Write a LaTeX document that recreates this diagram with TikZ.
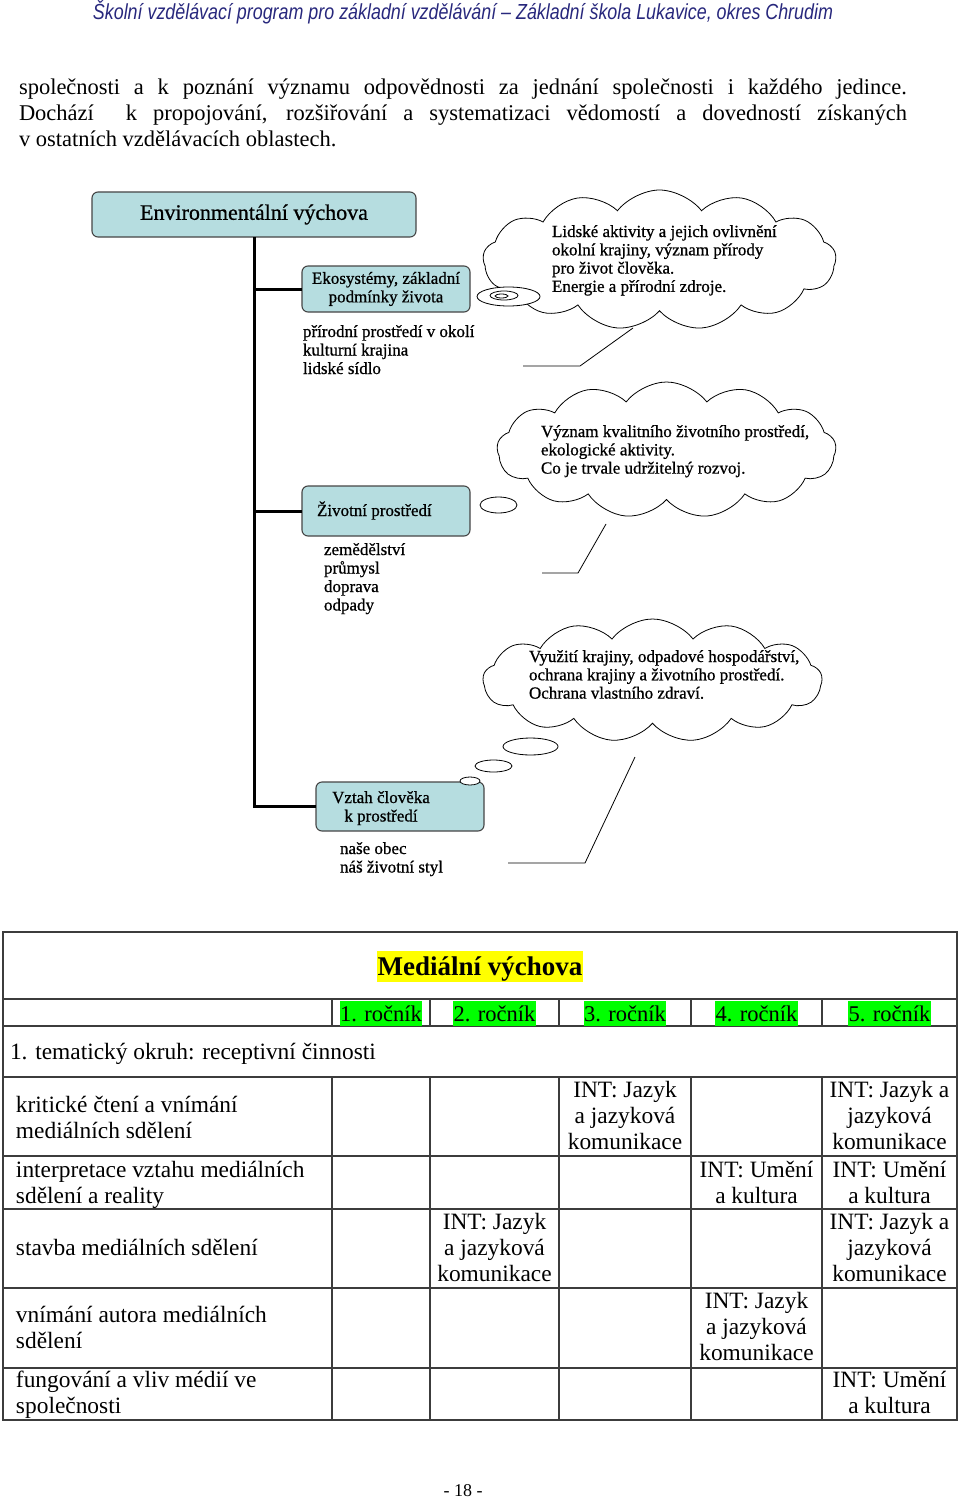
\documentclass[tikz,border=0pt]{standalone}
\usepackage{fontspec}
\setmainfont{Liberation Serif}
\newfontfamily\headfont[FakeStretch=0.82]{Liberation Sans}
\newfontfamily\dfont[FakeBold=0.7]{Liberation Serif}
\usetikzlibrary{shapes.geometric,shapes.symbols}
\definecolor{navy}{RGB}{40,40,125}
\definecolor{boxfill}{RGB}{182,221,224}
\definecolor{boxline}{RGB}{70,70,70}
\definecolor{hlgreen}{RGB}{0,255,0}
\definecolor{hlyellow}{RGB}{255,255,0}
\definecolor{gridline}{RGB}{60,60,60}
\newcommand\mlines[2]{\begin{tabular}[t]{@{}#1@{}}#2\end{tabular}}
\tikzset{
  every node/.style={inner sep=0pt, outer sep=0pt},
  body/.style={font=\fontsize{22.5}{26}\selectfont},
  ebox/.style={draw=boxline, fill=boxfill, rounded corners=6pt, line width=1.1pt},
  trunk/.style={line width=3pt},
  dtext/.style={font=\dfont\fontsize{17}{18.5}\selectfont},
  ctext/.style={font=\dfont\fontsize{17}{18.3}\selectfont},
  thought/.style={cloud, draw, line width=0.8pt, cloud puffs=13, cloud puff arc=105, cloud ignores aspect},
  bubble/.style={ellipse, draw, line width=0.8pt, fill=white},
  callout/.style={line width=0.8pt},
  grid/.style={draw=gridline, line width=1.3pt},
  ttext/.style={font=\fontsize{23.4}{26}\selectfont},
  hlg/.style={fill=hlgreen, text height=20pt, text depth=5pt, inner xsep=0.5pt, font=\fontsize{22.5}{26}\selectfont}
}
\begin{document}
\begin{tikzpicture}[x=1pt,y=-1pt]
\useasboundingbox (0,0) rectangle (960,1498);
\fill[white] (0,0) rectangle (960,1498);

% header
\node[anchor=base, text=navy, font=\headfont\itshape\fontsize{20}{24}\selectfont] (hdr) at (463,20)
  {\resizebox{740pt}{!}{Školní vzdělávací program pro základní vzdělávání – Základní škola Lukavice, okres Chrudim}};

% paragraph
\node[body, anchor=base west] (para) at (19,95) {\parbox[t]{888pt}{\fontsize{22.5}{26}\selectfont
společnosti a k~poznání významu odpovědnosti za jednání společnosti i každého jedince.\linebreak
Dochází\ \ k~propojování, rozšiřování a systematizaci vědomostí a dovedností získaných\linebreak
v~ostatních vzdělávacích oblastech.}};

% ---------- diagram ----------
\node[ebox, minimum width=324pt, minimum height=45pt, font=\dfont\fontsize{22}{24}\selectfont] (env) at (254,214.5) {Environmentální výchova};

\node[ebox, minimum width=168pt, minimum height=46pt, dtext, align=center] (eko) at (386,289) {Ekosystémy, základní\\podmínky života};
\node[dtext, anchor=base west] (ekol) at (303,337) {\mlines{l}{přírodní prostředí v~okolí\\kulturní krajina\\lidské sídlo}};

\node[ebox, minimum width=168pt, minimum height=50pt] (ziv) at (386,511) {};
\node[dtext, anchor=base west] (zivt) at (317,516) {Životní prostředí};
\node[dtext, anchor=base west] (zivl) at (324,555) {\mlines{l}{zemědělství\\průmysl\\doprava\\odpady}};

\node[ebox, minimum width=168pt, minimum height=49pt] (vz) at (400,806.5) {};
\node[dtext, anchor=base] (vzt) at (381,803) {\mlines{c}{Vztah člověka\\k~prostředí}};
\node[dtext, anchor=base west] (vzl) at (340,854) {\mlines{l}{naše obec\\náš životní styl}};

\draw[trunk] (env.south) -- (env.south |- vz.west) -- (vz.west);
\draw[trunk] (env.south |- eko.west) -- (eko.west);
\draw[trunk] (env.south |- ziv.west) -- (ziv.west);

% clouds
\node[thought, minimum width=353pt, minimum height=140pt] (c1) at (659.5,260) {};
\node[ctext, anchor=base west] (c1t) at (552,237) {\mlines{l}{Lidské aktivity a jejich ovlivnění\\okolní krajiny, význam přírody\\pro život člověka.\\Energie a přírodní zdroje.}};
\node[bubble, minimum width=63pt, minimum height=19pt] (b1a) at (508.5,296.5) {};
\node[bubble, minimum width=28pt, minimum height=9pt] (b1b) at (504,295.5) {};
\node[bubble, minimum width=13pt, minimum height=4pt] (b1c) at (501.5,296) {};
\coordinate (l1a) at (633,328); \coordinate (l1b) at (580,366); \coordinate (l1c) at (523,366);
\draw[callout] (l1a) -- (l1b) -- (l1c);

\node[thought, minimum width=339pt, minimum height=136pt] (c2) at (666.5,450) {};
\node[ctext, anchor=base west] (c2t) at (541,437) {\mlines{l}{Význam kvalitního životního prostředí,\\ekologické aktivity.\\Co je trvale udržitelný rozvoj.}};
\node[bubble, minimum width=37pt, minimum height=16pt] (b2) at (498.5,505) {};
\coordinate (l2a) at (606,524); \coordinate (l2b) at (578,573); \coordinate (l2c) at (542,573);
\draw[callout] (l2a) -- (l2b) -- (l2c);

\node[thought, minimum width=339pt, minimum height=123pt] (c3) at (652.5,680.5) {};
\node[ctext, anchor=base west] (c3t) at (529,662) {\mlines{l}{Využití krajiny, odpadové hospodářství,\\ochrana krajiny a životního prostředí.\\Ochrana vlastního zdraví.}};
\node[bubble, minimum width=55pt, minimum height=17pt] (b3a) at (530.5,746.5) {};
\node[bubble, minimum width=37pt, minimum height=12pt] (b3b) at (493.5,766) {};
\node[bubble, minimum width=20pt, minimum height=8pt] (b3c) at (470,781) {};
\coordinate (l3a) at (635,757); \coordinate (l3b) at (585,863); \coordinate (l3c) at (508,863);
\draw[callout] (l3a) -- (l3b) -- (l3c);

% ---------- table ----------
\draw[grid] (3,932) rectangle (957,1420);
\foreach \yy in {999,1026,1077,1156,1209,1288,1368} \draw[grid] (3,\yy) -- (957,\yy);
\foreach \xx in {332,430,559,691,822} {
  \draw[grid] (\xx,999) -- (\xx,1026);
  \draw[grid] (\xx,1077) -- (\xx,1420);
}

\node[anchor=base, fill=hlyellow, font=\bfseries\fontsize{27}{30}\selectfont, text height=24pt, text depth=7pt, inner xsep=1pt] (mv) at (480,975) {Mediální výchova};
\node[hlg, anchor=base] (r1) at (381,1021) {1. ročník};
\node[hlg, anchor=base] (r2) at (494.5,1021) {2. ročník};
\node[hlg, anchor=base] (r3) at (625,1021) {3. ročník};
\node[hlg, anchor=base] (r4) at (756.5,1021) {4. ročník};
\node[hlg, anchor=base] (r5) at (889.5,1021) {5. ročník};

\node[ttext, anchor=base west] (okruh) at (10,1059) {1. tematický okruh: receptivní činnosti};

\node[ttext, anchor=base west] (t1) at (16,1112) {\mlines{l}{kritické čtení a vnímání\\mediálních sdělení}};
\node[ttext, anchor=base west] (t2) at (16,1177) {\mlines{l}{interpretace vztahu mediálních\\sdělení a reality}};
\node[ttext, anchor=base west] (t3) at (16,1255) {stavba mediálních sdělení};
\node[ttext, anchor=base west] (t4) at (16,1322) {\mlines{l}{vnímání autora mediálních\\sdělení}};
\node[ttext, anchor=base west] (t5) at (16,1387) {\mlines{l}{fungování a vliv médií ve\\společnosti}};

\node[ttext, anchor=base] (a13) at (625,1097) {\mlines{c}{INT: Jazyk\\a jazyková\\komunikace}};
\node[ttext, anchor=base] (a15) at (889.5,1097) {\mlines{c}{INT: Jazyk a\\jazyková\\komunikace}};
\node[ttext, anchor=base] (a24) at (756.5,1177) {\mlines{c}{INT: Umění\\a kultura}};
\node[ttext, anchor=base] (a25) at (889.5,1177) {\mlines{c}{INT: Umění\\a kultura}};
\node[ttext, anchor=base] (a32) at (494.5,1229) {\mlines{c}{INT: Jazyk\\a jazyková\\komunikace}};
\node[ttext, anchor=base] (a35) at (889.5,1229) {\mlines{c}{INT: Jazyk a\\jazyková\\komunikace}};
\node[ttext, anchor=base] (a44) at (756.5,1308) {\mlines{c}{INT: Jazyk\\a jazyková\\komunikace}};
\node[ttext, anchor=base] (a55) at (889.5,1387) {\mlines{c}{INT: Umění\\a kultura}};

\node[anchor=base, font=\fontsize{18}{22}\selectfont] (pg) at (463,1496) {- 18 -};
\end{tikzpicture}
\end{document}
